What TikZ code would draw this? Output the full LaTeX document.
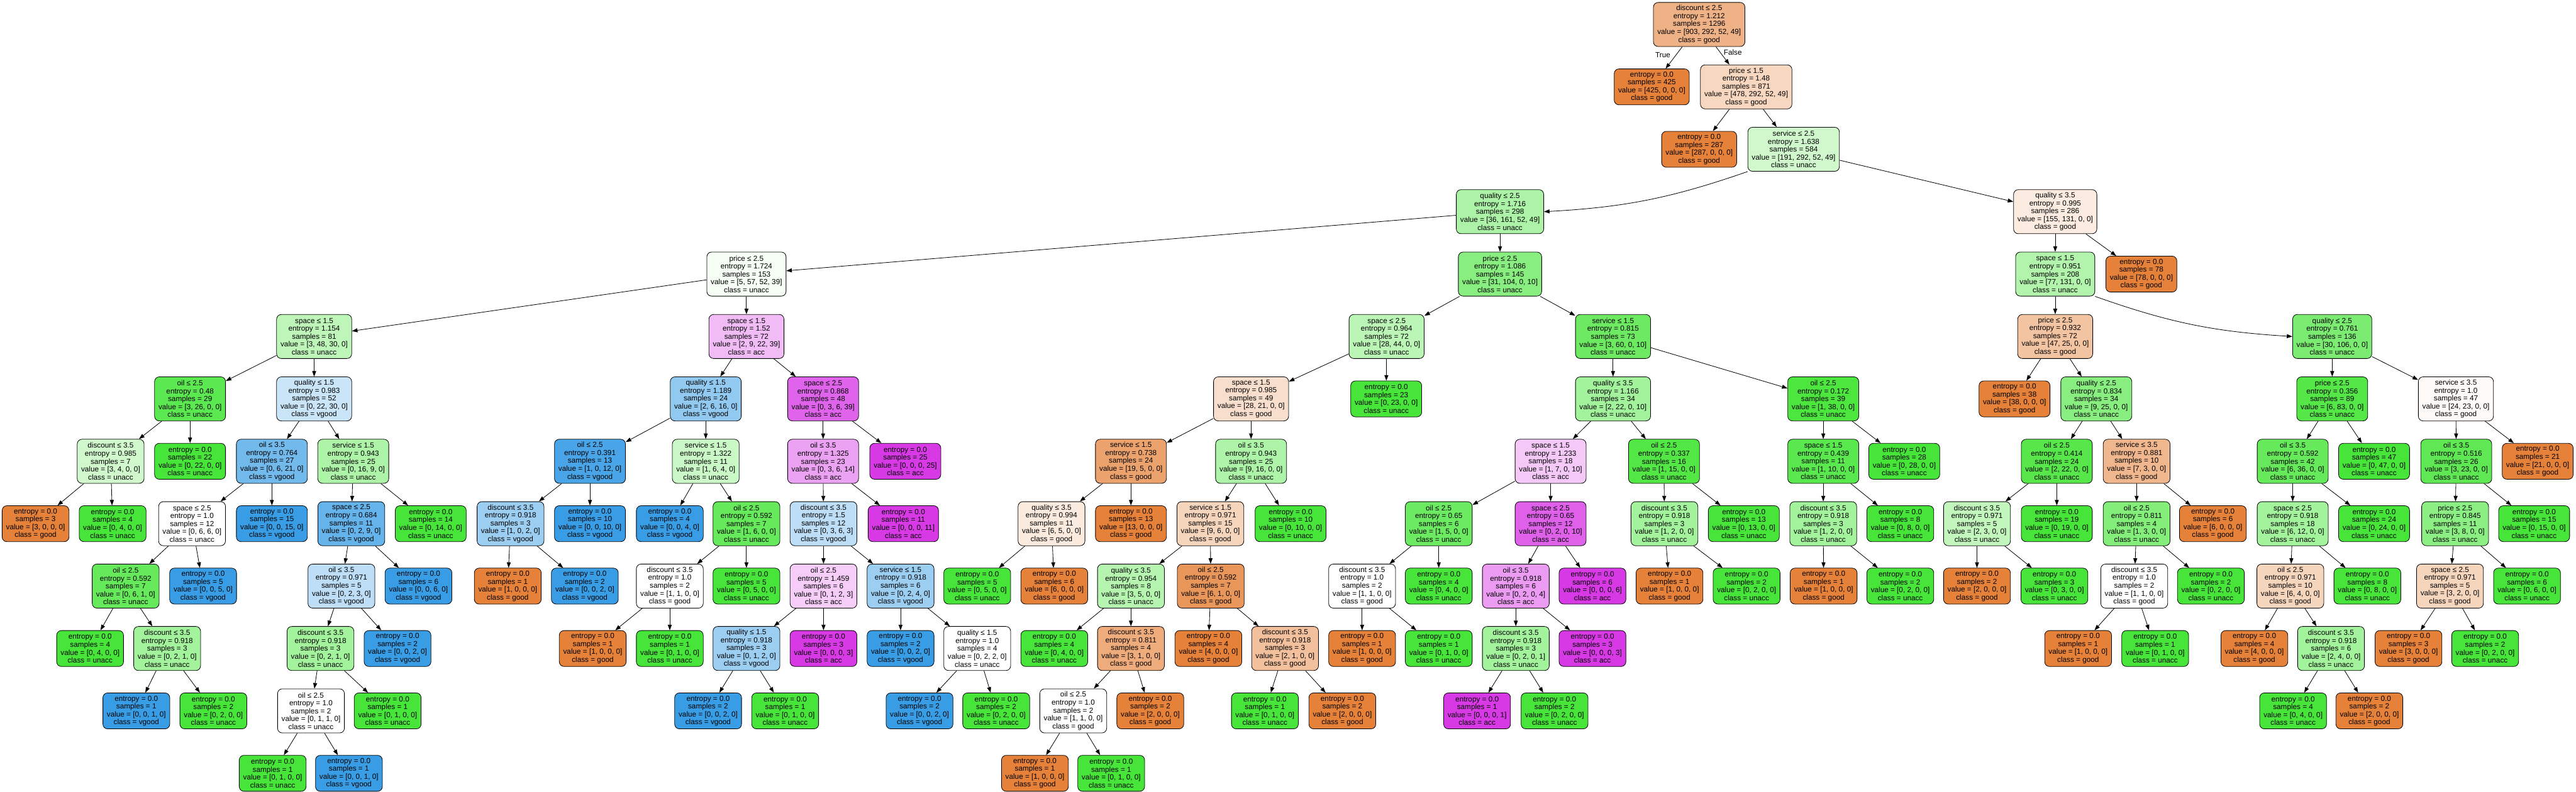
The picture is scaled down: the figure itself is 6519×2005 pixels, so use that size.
\documentclass[tikz,border=0pt]{standalone}
\usepackage{fontspec}
\setmainfont{Liberation Sans}
\usetikzlibrary{arrows.meta}
\definecolor{goodc}{HTML}{E58139}
\definecolor{unaccc}{HTML}{47E539}
\definecolor{vgoodc}{HTML}{399DE5}
\definecolor{accc}{HTML}{D739E5}
\newcommand\innode[9]{\node[inbox, fill=#8c!#9!white] (#1) at (#2,{62+158*#3}) {#4\\entropy = #5\\samples = #6\\value = [#7]\\class = #8};}
\newcommand\lfnode[6]{\node[lfbox, fill=#6c] (#1) at (#2,{62+158*#3}) {entropy = 0.0\\samples = #4\\value = [#5]\\class = #6};}
\tikzset{
 boxbase/.style={draw=black, line width=0.65pt, rounded corners=6pt, align=center, inner xsep=5pt, inner ysep=2pt, font=\fontsize{9.35pt}{10pt}\selectfont},
 inbox/.style={boxbase, minimum height=55.8pt},
 lfbox/.style={boxbase, minimum height=45.5pt},
 ed/.style={line width=0.65pt, -{Triangle[length=7pt,width=5pt]}},
 lbl/.style={font=\fontsize{9.35pt}{10pt}\selectfont, inner sep=0pt}
}
\begin{document}
\begin{tikzpicture}[x=0.5pt,y=-0.5pt]
\useasboundingbox (0,0) rectangle (6519,2005);
% level 0-4
\innode{R}{4300}{0}{discount ≤ 2.5}{1.212}{1296}{903, 292, 52, 49}{good}{60.9}
\lfnode{A}{4180}{1}{425}{425, 0, 0, 0}{good}
\innode{B}{4419}{1}{price ≤ 1.5}{1.48}{871}{478, 292, 52, 49}{good}{32.1}
\lfnode{C}{4300}{2}{287}{287, 0, 0, 0}{good}
\innode{D}{4539}{2}{service ≤ 2.5}{1.638}{584}{191, 292, 52, 49}{unacc}{25.7}
\innode{E}{3796}{3}{quality ≤ 2.5}{1.716}{298}{36, 161, 52, 49}{unacc}{44.3}
\innode{F}{5201}{3}{quality ≤ 3.5}{0.995}{286}{155, 131, 0, 0}{good}{15.5}
\innode{G}{1889}{4}{price ≤ 2.5}{1.724}{153}{5, 57, 52, 39}{unacc}{5.0}
\innode{H}{3796}{4}{price ≤ 2.5}{1.086}{145}{31, 104, 0, 10}{unacc}{64.0}
\innode{I}{5201}{4}{space ≤ 1.5}{0.951}{208}{77, 131, 0, 0}{unacc}{41.2}
\lfnode{J}{5419}{4}{78}{78, 0, 0, 0}{good}
% level 5
\innode{K}{795}{5}{space ≤ 1.5}{1.154}{81}{3, 48, 30, 0}{unacc}{35.3}
\innode{L}{1889}{5}{space ≤ 1.5}{1.52}{72}{2, 9, 22, 39}{acc}{34.0}
\innode{M}{3509}{5}{space ≤ 2.5}{0.964}{72}{28, 44, 0, 0}{unacc}{36.4}
\innode{N}{4082}{5}{service ≤ 1.5}{0.815}{73}{3, 60, 0, 10}{unacc}{79.4}
\innode{O}{5201}{5}{price ≤ 2.5}{0.932}{72}{47, 25, 0, 0}{good}{46.8}
\innode{P}{5902}{5}{quality ≤ 2.5}{0.761}{136}{30, 106, 0, 0}{unacc}{71.7}
% level 6
\innode{K1}{481}{6}{oil ≤ 2.5}{0.48}{29}{3, 26, 0, 0}{unacc}{88.5}
\innode{K2}{795}{6}{quality ≤ 1.5}{0.983}{52}{0, 22, 30, 0}{vgood}{26.7}
\innode{L1}{1786}{6}{quality ≤ 1.5}{1.189}{24}{2, 6, 16, 0}{vgood}{55.6}
\innode{L2}{2083}{6}{space ≤ 2.5}{0.868}{48}{0, 3, 6, 39}{acc}{78.6}
\innode{M1}{3166}{6}{space ≤ 1.5}{0.985}{49}{28, 21, 0, 0}{good}{25.0}
\lfnode{M2}{3508}{6}{23}{0, 23, 0, 0}{unacc}
\innode{N1}{4082}{6}{quality ≤ 3.5}{1.166}{34}{2, 22, 0, 10}{unacc}{50.0}
\innode{N2}{4614}{6}{oil ≤ 2.5}{0.172}{39}{1, 38, 0, 0}{unacc}{97.4}
\lfnode{O1}{5098}{6}{38}{38, 0, 0, 0}{good}
\innode{O2}{5305}{6}{quality ≤ 2.5}{0.834}{34}{9, 25, 0, 0}{unacc}{64.0}
\innode{P1}{5902}{6}{price ≤ 2.5}{0.356}{89}{6, 83, 0, 0}{unacc}{92.8}
\innode{P2}{6215}{6}{service ≤ 3.5}{1.0}{47}{24, 23, 0, 0}{good}{4.2}
% level 7
\innode{K1a}{280}{7}{discount ≤ 3.5}{0.985}{7}{3, 4, 0, 0}{unacc}{25.0}
\lfnode{K1b}{481}{7}{22}{0, 22, 0, 0}{unacc}
\innode{K2a}{688}{7}{oil ≤ 3.5}{0.764}{27}{0, 6, 21, 0}{vgood}{71.4}
\innode{K2b}{894}{7}{service ≤ 1.5}{0.943}{25}{0, 16, 9, 0}{unacc}{43.8}
\innode{L1a}{1493}{7}{oil ≤ 2.5}{0.391}{13}{1, 0, 12, 0}{vgood}{91.7}
\innode{L1b}{1786}{7}{service ≤ 1.5}{1.322}{11}{1, 6, 4, 0}{unacc}{28.6}
\innode{L2a}{2083}{7}{oil ≤ 3.5}{1.325}{23}{0, 3, 6, 14}{acc}{47.1}
\lfnode{L2b}{2291}{7}{25}{0, 0, 0, 25}{acc}
\innode{M1a}{2862}{7}{service ≤ 1.5}{0.738}{24}{19, 5, 0, 0}{good}{73.7}
\innode{M1b}{3166}{7}{oil ≤ 3.5}{0.943}{25}{9, 16, 0, 0}{unacc}{43.8}
\innode{N1a}{3924}{7}{space ≤ 1.5}{1.233}{18}{1, 7, 0, 10}{acc}{27.3}
\innode{N1b}{4211}{7}{oil ≤ 2.5}{0.337}{16}{1, 15, 0, 0}{unacc}{93.3}
\innode{N2a}{4614}{7}{space ≤ 1.5}{0.439}{11}{1, 10, 0, 0}{unacc}{90.0}
\lfnode{N2b}{4819}{7}{28}{0, 28, 0, 0}{unacc}
\innode{O2a}{5205}{7}{oil ≤ 2.5}{0.414}{24}{2, 22, 0, 0}{unacc}{90.9}
\innode{O2b}{5407}{7}{service ≤ 3.5}{0.881}{10}{7, 3, 0, 0}{good}{57.1}
\innode{P1a}{5802}{7}{oil ≤ 3.5}{0.592}{42}{6, 36, 0, 0}{unacc}{83.3}
\lfnode{P1b}{6008}{7}{47}{0, 47, 0, 0}{unacc}
\innode{P2a}{6216}{7}{oil ≤ 3.5}{0.516}{26}{3, 23, 0, 0}{unacc}{87.0}
\lfnode{P2b}{6422}{7}{21}{21, 0, 0, 0}{good}
% level 8
\lfnode{K1aa}{90}{8}{3}{3, 0, 0, 0}{good}
\lfnode{K1ab}{285}{8}{4}{0, 4, 0, 0}{unacc}
\innode{K2aa}{486}{8}{space ≤ 2.5}{1.0}{12}{0, 6, 6, 0}{unacc}{0}
\lfnode{K2ab}{688}{8}{15}{0, 0, 15, 0}{vgood}
\innode{K2ba}{889}{8}{space ≤ 2.5}{0.684}{11}{0, 2, 9, 0}{vgood}{77.8}
\lfnode{K2bb}{1090}{8}{14}{0, 14, 0, 0}{unacc}
\innode{L1aa}{1292}{8}{discount ≤ 3.5}{0.918}{3}{1, 0, 2, 0}{vgood}{50.0}
\lfnode{L1ab}{1493}{8}{10}{0, 0, 10, 0}{vgood}
\lfnode{L1ba}{1695}{8}{4}{0, 0, 4, 0}{vgood}
\innode{L1bb}{1889}{8}{oil ≤ 2.5}{0.592}{7}{1, 6, 0, 0}{unacc}{83.3}
\innode{L2aa}{2084}{8}{discount ≤ 3.5}{1.5}{12}{0, 3, 6, 3}{vgood}{33.3}
\lfnode{L2ab}{2286}{8}{11}{0, 0, 0, 11}{acc}
\innode{M1aa}{2661}{8}{quality ≤ 3.5}{0.994}{11}{6, 5, 0, 0}{good}{16.7}
\lfnode{M1ab}{2862}{8}{13}{13, 0, 0, 0}{good}
\innode{M1ba}{3063}{8}{service ≤ 1.5}{0.971}{15}{9, 6, 0, 0}{good}{33.3}
\lfnode{M1bb}{3266}{8}{10}{0, 10, 0, 0}{unacc}
\innode{N1aa}{3641}{8}{oil ≤ 2.5}{0.65}{6}{1, 5, 0, 0}{unacc}{80.0}
\innode{N1ab}{3924}{8}{space ≤ 2.5}{0.65}{12}{0, 2, 0, 10}{acc}{80.0}
\innode{N1ba}{4212}{8}{discount ≤ 3.5}{0.918}{3}{1, 2, 0, 0}{unacc}{50.0}
\lfnode{N1bb}{4413}{8}{13}{0, 13, 0, 0}{unacc}
\innode{N2aa}{4614}{8}{discount ≤ 3.5}{0.918}{3}{1, 2, 0, 0}{unacc}{50.0}
\lfnode{N2ab}{4809}{8}{8}{0, 8, 0, 0}{unacc}
\innode{O2aa}{5003}{8}{discount ≤ 3.5}{0.971}{5}{2, 3, 0, 0}{unacc}{33.3}
\lfnode{O2ab}{5205}{8}{19}{0, 19, 0, 0}{unacc}
\innode{O2ba}{5407}{8}{oil ≤ 2.5}{0.811}{4}{1, 3, 0, 0}{unacc}{66.7}
\lfnode{O2bb}{5600}{8}{6}{6, 0, 0, 0}{good}
\innode{P1aa}{5802}{8}{space ≤ 2.5}{0.918}{18}{6, 12, 0, 0}{unacc}{50.0}
\lfnode{P1ab}{6008}{8}{24}{0, 24, 0, 0}{unacc}
\innode{P2aa}{6213}{8}{price ≤ 2.5}{0.845}{11}{3, 8, 0, 0}{unacc}{62.5}
\lfnode{P2ab}{6413}{8}{15}{0, 15, 0, 0}{unacc}
% level 9
\innode{K2aaa}{318}{9}{oil ≤ 2.5}{0.592}{7}{0, 6, 1, 0}{unacc}{83.3}
\lfnode{K2aab}{514}{9}{5}{0, 0, 5, 0}{vgood}
\innode{K2baa}{864}{9}{oil ≤ 3.5}{0.971}{5}{0, 2, 3, 0}{vgood}{33.3}
\lfnode{K2bab}{1059}{9}{6}{0, 0, 6, 0}{vgood}
\lfnode{L1aaa}{1285}{9}{1}{1, 0, 0, 0}{good}
\lfnode{L1aab}{1480}{9}{2}{0, 0, 2, 0}{vgood}
\innode{L1bba}{1695}{9}{discount ≤ 3.5}{1.0}{2}{1, 1, 0, 0}{good}{0}
\lfnode{L1bbb}{1889}{9}{5}{0, 5, 0, 0}{unacc}
\innode{L2aaa}{2084}{9}{oil ≤ 2.5}{1.459}{6}{0, 1, 2, 3}{acc}{25.0}
\innode{L2aab}{2279}{9}{service ≤ 1.5}{0.918}{6}{0, 2, 4, 0}{vgood}{50.0}
\lfnode{M1aaa}{2473}{9}{5}{0, 5, 0, 0}{unacc}
\lfnode{M1aab}{2668}{9}{6}{6, 0, 0, 0}{good}
\innode{M1baa}{2862}{9}{quality ≤ 3.5}{0.954}{8}{3, 5, 0, 0}{unacc}{40.0}
\innode{M1bab}{3064}{9}{oil ≤ 2.5}{0.592}{7}{6, 1, 0, 0}{good}{83.3}
\innode{N1aaa}{3447}{9}{discount ≤ 3.5}{1.0}{2}{1, 1, 0, 0}{good}{0}
\lfnode{N1aab}{3641}{9}{4}{0, 4, 0, 0}{unacc}
\innode{N1aba}{3836}{9}{oil ≤ 3.5}{0.918}{6}{0, 2, 0, 4}{acc}{50.0}
\lfnode{N1abb}{4030}{9}{6}{0, 0, 0, 6}{acc}
\lfnode{N1baa}{4225}{9}{1}{1, 0, 0, 0}{good}
\lfnode{N1bab}{4420}{9}{2}{0, 2, 0, 0}{unacc}
\lfnode{N2aaa}{4615}{9}{1}{1, 0, 0, 0}{good}
\lfnode{N2aab}{4809}{9}{2}{0, 2, 0, 0}{unacc}
\lfnode{O2aaa}{5003}{9}{2}{2, 0, 0, 0}{good}
\lfnode{O2aab}{5199}{9}{3}{0, 3, 0, 0}{unacc}
\innode{O2baa}{5401}{9}{discount ≤ 3.5}{1.0}{2}{1, 1, 0, 0}{good}{0}
\lfnode{O2bab}{5595}{9}{2}{0, 2, 0, 0}{unacc}
\innode{P1aaa}{5796}{9}{oil ≤ 2.5}{0.971}{10}{6, 4, 0, 0}{good}{33.3}
\lfnode{P1aab}{5991}{9}{8}{0, 8, 0, 0}{unacc}
\innode{P2aaa}{6200}{9}{space ≤ 2.5}{0.971}{5}{3, 2, 0, 0}{good}{33.3}
\lfnode{P2aab}{6395}{9}{6}{0, 6, 0, 0}{unacc}
% level 10
\lfnode{K2aaaa}{228}{10}{4}{0, 4, 0, 0}{unacc}
\innode{K2aaab}{423}{10}{discount ≤ 3.5}{0.918}{3}{0, 2, 1, 0}{unacc}{50.0}
\innode{K2baaa}{811}{10}{discount ≤ 3.5}{0.918}{3}{0, 2, 1, 0}{unacc}{50.0}
\lfnode{K2baab}{1006}{10}{2}{0, 0, 2, 0}{vgood}
\lfnode{L1bbaa}{1500}{10}{1}{1, 0, 0, 0}{good}
\lfnode{L1bbab}{1695}{10}{1}{0, 1, 0, 0}{unacc}
\innode{L2aaaa}{1889}{10}{quality ≤ 1.5}{0.918}{3}{0, 1, 2, 0}{vgood}{50.0}
\lfnode{L2aaab}{2084}{10}{3}{0, 0, 0, 3}{acc}
\lfnode{L2aaba}{2279}{10}{2}{0, 0, 2, 0}{vgood}
\innode{L2aabb}{2473}{10}{quality ≤ 1.5}{1.0}{4}{0, 2, 2, 0}{unacc}{0}
\lfnode{M1baaa}{2668}{10}{4}{0, 4, 0, 0}{unacc}
\innode{M1baab}{2862}{10}{discount ≤ 3.5}{0.811}{4}{3, 1, 0, 0}{good}{66.7}
\lfnode{M1baba}{3058}{10}{4}{4, 0, 0, 0}{good}
\innode{M1babb}{3252}{10}{discount ≤ 3.5}{0.918}{3}{2, 1, 0, 0}{good}{50.0}
\lfnode{N1aaaa}{3447}{10}{1}{1, 0, 0, 0}{good}
\lfnode{N1aaab}{3641}{10}{1}{0, 1, 0, 0}{unacc}
\innode{N1abaa}{3836}{10}{discount ≤ 3.5}{0.918}{3}{0, 2, 0, 1}{unacc}{50.0}
\lfnode{N1abab}{4030}{10}{3}{0, 0, 0, 3}{acc}
\lfnode{O2baaa}{5259}{10}{1}{1, 0, 0, 0}{good}
\lfnode{O2baab}{5454}{10}{1}{0, 1, 0, 0}{unacc}
\lfnode{P1aaaa}{5705}{10}{4}{4, 0, 0, 0}{good}
\innode{P1aaab}{5899}{10}{discount ≤ 3.5}{0.918}{6}{2, 4, 0, 0}{unacc}{50.0}
\lfnode{P2aaaa}{6095}{10}{3}{3, 0, 0, 0}{good}
\lfnode{P2aaab}{6289}{10}{2}{0, 2, 0, 0}{unacc}
% level 11
\lfnode{K2aaaba}{345}{11}{1}{0, 0, 1, 0}{vgood}
\lfnode{K2aaabb}{540}{11}{2}{0, 2, 0, 0}{unacc}
\innode{K2baaaa}{787}{11}{oil ≤ 2.5}{1.0}{2}{0, 1, 1, 0}{unacc}{0}
\lfnode{K2baaab}{981}{11}{1}{0, 1, 0, 0}{unacc}
\lfnode{L2aaaaa}{1792}{11}{2}{0, 0, 2, 0}{vgood}
\lfnode{L2aaaab}{1987}{11}{1}{0, 1, 0, 0}{unacc}
\lfnode{L2aabba}{2327}{11}{2}{0, 0, 2, 0}{vgood}
\lfnode{L2aabbb}{2521}{11}{2}{0, 2, 0, 0}{unacc}
\innode{M1baaba}{2716}{11}{oil ≤ 2.5}{1.0}{2}{1, 1, 0, 0}{good}{0}
\lfnode{M1baabb}{2911}{11}{2}{2, 0, 0, 0}{good}
\lfnode{M1babba}{3201}{11}{1}{0, 1, 0, 0}{unacc}
\lfnode{M1babbb}{3397}{11}{2}{2, 0, 0, 0}{good}
\lfnode{N1abaaa}{3738}{11}{1}{0, 0, 0, 1}{acc}
\lfnode{N1abaab}{3934}{11}{2}{0, 2, 0, 0}{unacc}
\lfnode{P1aaaba}{5803}{11}{4}{0, 4, 0, 0}{unacc}
\lfnode{P1aaabb}{5996}{11}{2}{2, 0, 0, 0}{good}
% level 12
\lfnode{K2baaaaa}{690}{12}{1}{0, 1, 0, 0}{unacc}
\lfnode{K2baaaab}{883}{12}{1}{0, 0, 1, 0}{vgood}
\lfnode{M1baabaa}{2619}{12}{1}{1, 0, 0, 0}{good}
\lfnode{M1baabab}{2812}{12}{1}{0, 1, 0, 0}{unacc}
% edges
\foreach \a/\b in {R/A,R/B,B/C,B/D,D/F,E/G,E/H,F/I,F/J,G/K,G/L,H/M,H/N,I/O,K/K1,K/K2,L/L1,L/L2,M/M1,M/M2,N/N1,N/N2,O/O1,O/O2,P/P1,P/P2}
  \draw[ed] (\a) -- (\b);
\foreach \p in {K1,K2,L1,L2,M1,N1,N2,O2,P1,P2,K1a,K2a,K2b,L1a,L1b,L2a,M1a,M1b,N1a,N1b,N2a,O2a,O2b,P1a,P2a,K2aa,K2ba,L1aa,L1bb,L2aa,M1aa,M1ba,N1aa,N1ab,N1ba,N2aa,O2aa,O2ba,P1aa,P2aa,K2aaa,K2baa,L1bba,L2aaa,L2aab,M1baa,M1bab,N1aaa,N1aba,O2baa,P1aaa,P2aaa,K2aaab,K2baaa,L2aaaa,L2aabb,M1baab,M1babb,N1abaa,P1aaab,K2baaaa,M1baaba}
  {\draw[ed] (\p) -- (\p a); \draw[ed] (\p) -- (\p b);}
\draw[ed] (D.south west) to[bend left=8] (E.east);
\draw[ed] (I.south east) to[bend right=8] (P.west);
\node[lbl] (tl) at (4208,140) {True};
\node[lbl] (fl) at (4385,132) {False};
\end{tikzpicture}
\end{document}
